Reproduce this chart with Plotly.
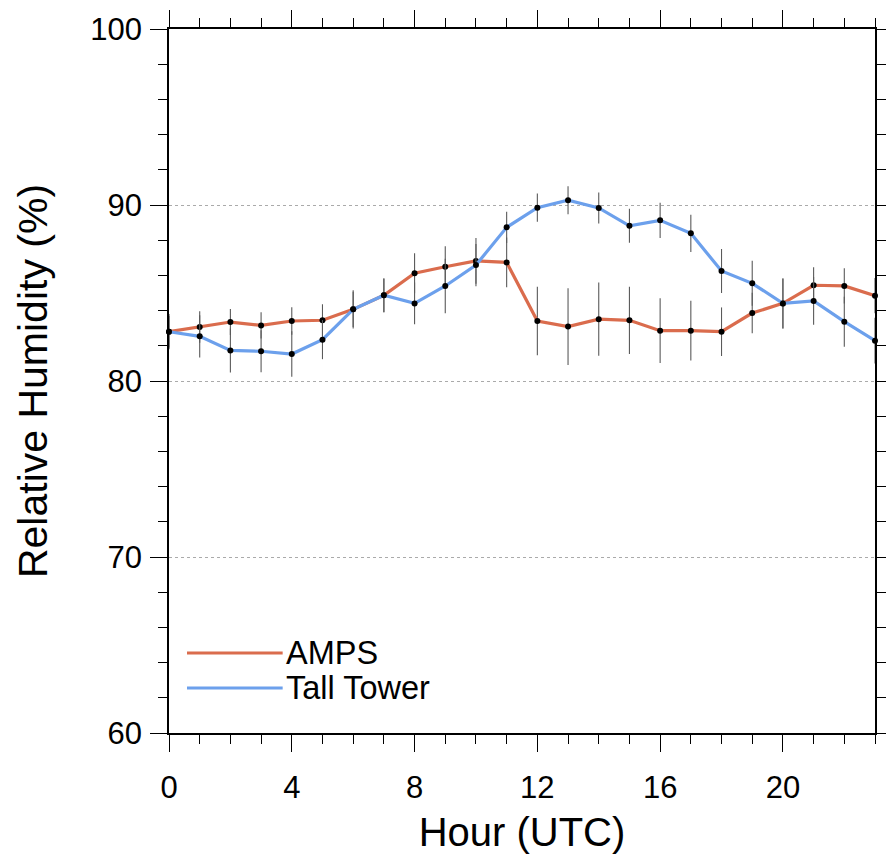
import plotly.graph_objects as go

hours = list(range(24))
amps = [82.80, 83.07, 83.35, 83.16, 83.41, 83.45, 84.07, 84.87, 86.12, 86.49, 86.82, 86.74,
        83.41, 83.09, 83.51, 83.45, 82.86, 82.86, 82.80, 83.86, 84.41, 85.44, 85.40, 84.85]
amps_err = [0.90, 0.90, 0.74, 0.74, 0.78, 0.91, 1.00, 0.96, 1.14, 1.17, 1.30, 1.42,
            1.95, 2.18, 2.08, 1.91, 1.84, 1.70, 1.38, 1.15, 1.42, 1.02, 1.00, 1.00]
tower = [82.80, 82.54, 81.74, 81.69, 81.53, 82.35, 84.07, 84.87, 84.41, 85.40, 86.59, 88.73,
         89.85, 90.27, 89.83, 88.82, 89.13, 88.39, 86.25, 85.55, 84.41, 84.55, 83.37, 82.29]
tower_err = [1.00, 1.20, 1.25, 1.19, 1.29, 1.11, 1.08, 0.96, 1.18, 1.55, 1.20, 0.89,
             0.80, 0.80, 0.88, 0.96, 1.00, 1.06, 1.25, 1.28, 1.42, 1.36, 1.42, 1.30]
series_names = ["AMPS", "Tall Tower"]
x_ticks = [0, 4, 8, 12, 16, 20]
y_ticks = [60, 70, 80, 90, 100]

RED = "#DA6C4D"
BLUE = "#6CA0EC"
FONT = "Liberation Sans"

fig = go.Figure()
for vals, errs, color, name in [(amps, amps_err, RED, series_names[0]),
                                (tower, tower_err, BLUE, series_names[1])]:
    fig.add_trace(go.Scatter(
        x=hours, y=vals, name=name, mode="lines+markers",
        line=dict(color=color, width=3.2),
        marker=dict(color="black", size=6),
        error_y=dict(type="data", array=errs, visible=True, color="#5a5a5a", thickness=1.1, width=0),
        cliponaxis=False, showlegend=False,
    ))

# manual legend (long line samples like the reference)
for i, (name, color) in enumerate([(series_names[0], RED), (series_names[1], BLUE)]):
    yy = 0.1136 - i * 0.0497
    fig.add_shape(type="line", xref="paper", yref="paper",
                  x0=0.0255, x1=0.161, y0=yy, y1=yy,
                  line=dict(color=color, width=3))
    fig.add_annotation(xref="paper", yref="paper", x=0.163, y=yy, text=name,
                       showarrow=False, xanchor="left", yanchor="middle",
                       font=dict(family=FONT, size=32.5, color="black"))

axis_common = dict(
    showline=True, linecolor="black", linewidth=1.5, mirror="allticks",
    ticks="outside", ticklen=17, tickwidth=1.2, tickcolor="black",
    tickfont=dict(family=FONT, size=31, color="black"),
    zeroline=False, automargin=False,
)

fig.update_xaxes(
    range=[0, 23], tickvals=x_ticks, showgrid=False,
    minor=dict(dtick=1, tick0=0, ticks="outside", ticklen=9, tickcolor="black", tickwidth=1, showgrid=False),
    title=dict(text="Hour (UTC)", font=dict(family=FONT, size=40, color="black"), standoff=14),
    ticklabelstandoff=9,
    **axis_common,
)
fig.update_yaxes(
    range=[60, 100], tickvals=y_ticks, showgrid=True, gridcolor="#aaaaaa", griddash="dot", gridwidth=1,
    minor=dict(dtick=2, tick0=60, ticks="outside", ticklen=9, tickcolor="black", tickwidth=1, showgrid=False),
    title=dict(text="Relative Humidity (%)", font=dict(family=FONT, size=41, color="black"), standoff=30),
    ticklabelstandoff=2,
    **axis_common,
)

fig.update_layout(
    width=886, height=861,
    margin=dict(l=169, r=11, t=29, b=128),
    plot_bgcolor="white", paper_bgcolor="white",
    showlegend=False,
)

fig.write_html("out.html")
